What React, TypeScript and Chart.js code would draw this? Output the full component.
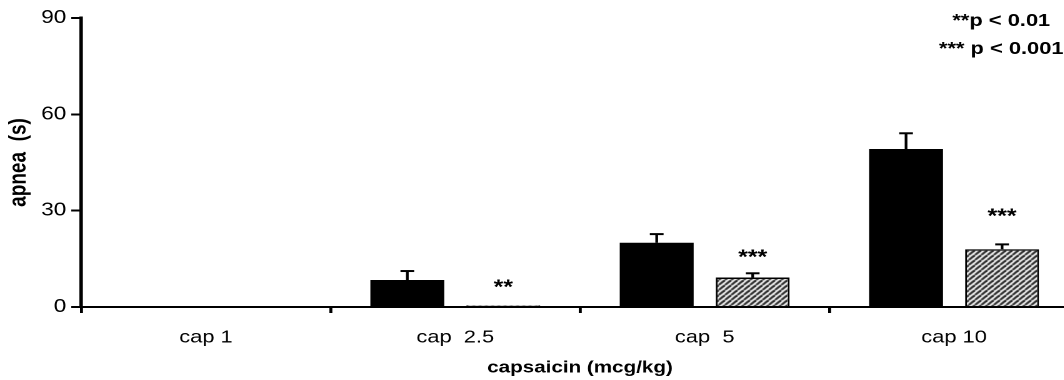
import { useEffect, useRef } from "react";
import { Chart, registerables } from "chart.js";

Chart.register(...registerables);

// ---- data ----
const categories = ["cap 1", "cap  2.5", "cap  5", "cap 10"];
const capsaicinAlone = [0, 8.4, 20.0, 49.2];
const capsaicinAloneSem = [0, 2.8, 2.7, 4.9];
const pretreated = [0, 0.5, 9.2, 18.0];
const pretreatedSem = [0, 0, 1.3, 1.5];
const significance = ["", "**", "***", "***"];
const significanceAt = [0, 7.5, 16.8, 29.6];
const yTicks = [0, 30, 60, 90];
const legendLines = ["**p < 0.01", "*** p < 0.001"];

// ---- layout (the scanned figure is stretched horizontally) ----
const STRETCH = 1.25;
const W = 870;
const H = 380;
const FONT = "Arial, 'Liberation Sans', Helvetica, sans-serif";

function makeHatch(): CanvasPattern | string {
  const n = 5;
  const c = document.createElement("canvas");
  c.width = n;
  c.height = n;
  const g = c.getContext("2d");
  if (!g) return "#777";
  g.fillStyle = "#fff";
  g.fillRect(0, 0, n, n);
  g.strokeStyle = "#1a1a1a";
  g.lineWidth = 1.9;
  for (let k = -n; k <= 2 * n; k += n) {
    g.beginPath();
    g.moveTo(k, n);
    g.lineTo(k + n, 0);
    g.stroke();
  }
  const p = g.createPattern(c, "repeat");
  return p || "#777";
}

const annotationsPlugin = {
  id: "annotations",
  afterDatasetsDraw(chart: any) {
    const ctx = chart.ctx;
    const y = chart.scales.y;
    const vals = [capsaicinAlone, pretreated];
    const sems = [capsaicinAloneSem, pretreatedSem];
    ctx.save();
    ctx.strokeStyle = "#000";
    ctx.lineCap = "butt";
    vals.forEach((v, di) => {
      const meta = chart.getDatasetMeta(di);
      meta.data.forEach((bar: any, i: number) => {
        if (!sems[di][i]) return;
        const base = y.getPixelForValue(v[i]);
        const top = y.getPixelForValue(v[i] + sems[di][i]);
        ctx.lineWidth = 2.2;
        ctx.beginPath();
        ctx.moveTo(bar.x, base);
        ctx.lineTo(bar.x, top);
        ctx.stroke();
        ctx.lineWidth = 2;
        ctx.beginPath();
        ctx.moveTo(bar.x - 5.5, top);
        ctx.lineTo(bar.x + 5.5, top);
        ctx.stroke();
      });
    });
    // significance markers
    const meta2 = chart.getDatasetMeta(1);
    ctx.fillStyle = "#000";
    ctx.font = `bold 20px ${FONT}`;
    ctx.textAlign = "center";
    ctx.textBaseline = "middle";
    meta2.data.forEach((bar: any, i: number) => {
      if (!significance[i]) return;
      ctx.fillText(significance[i], bar.x, y.getPixelForValue(significanceAt[i]) + 5);
    });
    // p-value legend
    ctx.font = `bold 17.5px ${FONT}`;
    legendLines.forEach((t, k) => {
      ctx.fillText(t, 801, 21 + k * 28);
    });
    ctx.restore();
  },
};

export default function App() {
  const ref = useRef<HTMLCanvasElement | null>(null);
  useEffect(() => {
    if (!ref.current) return;
    const hatch = makeHatch();
    const chart = new Chart(ref.current, {
      type: "bar",
      data: {
        labels: categories,
        datasets: [
          {
            label: "capsaicin",
            data: capsaicinAlone,
            backgroundColor: "#000",
            borderWidth: 0,
            categoryPercentage: 0.77,
            barPercentage: 0.77,
          },
          {
            label: "capsaicin after pretreatment",
            data: pretreated,
            backgroundColor: hatch as any,
            borderColor: "#000",
            borderWidth: 1.5,
            categoryPercentage: 0.77,
            barPercentage: 0.77,
          },
        ],
      },
      options: {
        responsive: false,
        animation: false,
        devicePixelRatio: 2,
        layout: { padding: { top: 18, right: 7, left: 0, bottom: 0 } },
        plugins: {
          legend: { display: false },
          tooltip: { enabled: false },
        },
        scales: {
          x: {
            type: "category",
            offset: true,
            grid: {
              offset: true,
              drawOnChartArea: false,
              drawTicks: true,
              tickLength: 6,
              color: "#000",
              lineWidth: 2.4,
            },
            border: { display: true, color: "#000", width: 2 },
            ticks: {
              color: "#000",
              font: { family: FONT, size: 17.5 },
              padding: 14,
              maxRotation: 0,
              autoSkip: false,
            },
            title: {
              display: true,
              text: "capsaicin (mcg/kg)",
              color: "#000",
              font: { family: FONT, size: 16.5, weight: "bold" },
              padding: { top: 0, bottom: 2 },
            },
            afterFit: (s: any) => {
              s.height = 73;
            },
          },
          y: {
            min: 0,
            max: 90,
            afterBuildTicks: (s: any) => {
              s.ticks = yTicks.map((v) => ({ value: v }));
            },
            grid: {
              drawOnChartArea: false,
              drawTicks: true,
              tickLength: 8,
              color: "#000",
              lineWidth: 2,
            },
            border: { display: true, color: "#000", width: 2.8 },
            ticks: {
              color: "#000",
              font: { family: FONT, size: 18 },
              padding: 4,
            },
            title: {
              display: true,
              text: "apnea  (s)",
              color: "#000",
              font: { family: FONT, size: 19, weight: "bold" },
              padding: { top: 4, bottom: 0 },
            },
            afterFit: (s: any) => {
              s.width = 65;
            },
          },
        },
      },
      plugins: [annotationsPlugin],
    });
    return () => chart.destroy();
  }, []);

  return (
    <div
      style={{
        position: "fixed",
        left: 0,
        top: 0,
        width: 1064,
        height: H,
        overflow: "hidden",
        background: "#fff",
      }}
    >
      <div
        style={{
          width: W,
          height: H,
          transform: `scaleX(${STRETCH})`,
          transformOrigin: "0 0",
        }}
      >
        <canvas ref={ref} width={W} height={H} style={{ width: W, height: H }} />
      </div>
    </div>
  );
}
